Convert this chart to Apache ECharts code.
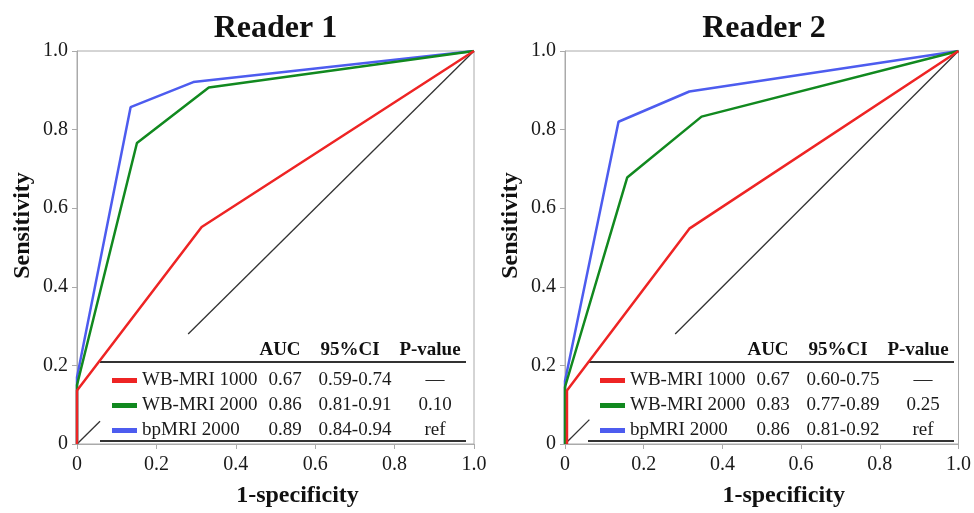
<!DOCTYPE html>
<html>
<head>
<meta charset="utf-8">
<script src="https://cdn.jsdelivr.net/npm/echarts@6/dist/echarts.min.js"></script>
<style>
  html, body { margin: 0; padding: 0; background: #fff; }
  #main { width: 974px; height: 513px; }
</style>
</head>
<body>
<div id="main"></div>
<script>
// names and table
var panelTitles = ['Reader 1', 'Reader 2']
var curveNames = ['WB-MRI 1000', 'WB-MRI 2000', 'bpMRI 2000']
var tableHeads = ['AUC', '95%CI', 'P-value']

// reader 1 curves [1-specificity, sensitivity]
var r1Wb1000 = [[0, 0], [0, 0.136], [0.314, 0.552], [1, 1]]
var r1Wb2000 = [[0, 0], [0, 0.15], [0.151, 0.766], [0.332, 0.907], [1, 1]]
var r1Bp2000 = [[0, 0], [0, 0.17], [0.135, 0.857], [0.293, 0.921], [1, 1]]
var r1DiagLow = [[0, 0], [0.058, 0.058]]
var r1DiagHigh = [[0.28, 0.28], [1, 1]]
var r1Auc = ['0.67', '0.86', '0.89']
var r1Ci = ['0.59-0.74', '0.81-0.91', '0.84-0.94']
var r1P = ['\u2014', '0.10', 'ref']

// reader 2 curves
var r2Wb1000 = [[0.005, 0], [0.005, 0.136], [0.316, 0.548], [1, 1]]
var r2Wb2000 = [[0, 0], [0, 0.145], [0.158, 0.678], [0.347, 0.833], [1, 1]]
var r2Bp2000 = [[0, 0], [0, 0.16], [0.136, 0.82], [0.316, 0.897], [1, 1]]
var r2DiagLow = [[0.005, 0.005], [0.062, 0.062]]
var r2DiagHigh = [[0.28, 0.28], [1, 1]]
var r2Auc = ['0.67', '0.83', '0.86']
var r2Ci = ['0.60-0.75', '0.77-0.89', '0.81-0.92']
var r2P = ['\u2014', '0.25', 'ref']

var colors = ['#ee2424', '#11891f', '#4d5cef']
var serif = '"Liberation Serif", "Times New Roman", serif'

var gridLefts = [77, 565]
var gridWidths = [397, 398]
var gridTop = 51
var gridHeight = 396

var chart = echarts.init(document.getElementById('main'))

function tickFmt(v) {
  return v === 0 ? '0' : v.toFixed(1)
}

function makeAxis(idx, isX) {
  return {
    type: 'value',
    gridIndex: idx,
    min: 0,
    max: 1,
    interval: 0.2,
    name: isX ? '1-specificity' : 'Sensitivity',
    nameLocation: 'middle',
    nameGap: isX ? 40 : 42,
    nameTextStyle: {
      fontFamily: serif, fontWeight: 'bold', fontSize: 24, color: '#111',
      padding: [0, 0, 0, 44]
    },
    axisLine: { show: true, lineStyle: { color: '#aaa', width: 1 } },
    axisTick: { show: true, inside: false, length: 5, lineStyle: { color: '#aaa' } },
    splitLine: { show: false },
    axisLabel: {
      fontFamily: serif, fontSize: 20, color: '#1a1a1a',
      margin: isX ? 11 : 9,
      formatter: tickFmt
    }
  }
}

function curve(name, data, idx, color, z) {
  return {
    name: name,
    type: 'line',
    xAxisIndex: idx,
    yAxisIndex: idx,
    data: data,
    showSymbol: false,
    symbol: 'none',
    z: z,
    lineStyle: { color: color, width: 2.5 },
    itemStyle: { color: color }
  }
}

function diag(data, idx) {
  return {
    type: 'line',
    xAxisIndex: idx,
    yAxisIndex: idx,
    data: data,
    symbol: 'none',
    z: 1,
    lineStyle: { color: '#333', width: 1.3 }
  }
}

var tables = [
  { auc: r1Auc, ci: r1Ci, p: r1P },
  { auc: r2Auc, ci: r2Ci, p: r2P }
]

function makeLegend(idx) {
  var t = tables[idx]
  var txt = { fontFamily: serif, fontSize: 19, lineHeight: 20, color: '#1a1a1a' }
  return {
    orient: 'vertical',
    left: gridLefts[idx] + 30,
    top: 366,
    itemWidth: 25,
    itemHeight: 5,
    itemGap: 6,
    icon: 'rect',
    selectedMode: false,
    data: curveNames,
    formatter: function (name) {
      var i = curveNames.indexOf(name)
      return '{n|' + name + '}{a|' + t.auc[i] + '}{c|' + t.ci[i] + '}{p|' + t.p[i] + '}'
    },
    textStyle: {
      fontFamily: serif, fontSize: 19, color: '#1a1a1a',
      rich: {
        n: Object.assign({ width: 120 }, txt),
        a: Object.assign({ width: 46, align: 'center' }, txt),
        c: Object.assign({ width: 94, align: 'center' }, txt),
        p: Object.assign({ width: 66, align: 'center' }, txt)
      }
    }
  }
}

// header row + rules of the table
function tableGraphics(idx) {
  var gl = gridLefts[idx]
  var textStart = gl + 30 + 25 + 5
  var offsets = [143, 213, 293]
  var out = []
  tableHeads.forEach(function (h, i) {
    out.push({
      type: 'text',
      x: textStart + offsets[i],
      y: 350,
      style: {
        text: h, font: 'bold 19px ' + serif, fill: '#111',
        textAlign: 'center', textVerticalAlign: 'middle'
      }
    })
  })
  ;[362, 441].forEach(function (y) {
    out.push({
      type: 'line',
      shape: { x1: gl + 23, y1: y, x2: gl + 389, y2: y },
      style: { stroke: '#333', lineWidth: 2 }
    })
  })
  return out
}

var option = {
  animation: false,
  backgroundColor: '#fff',
  title: [0, 1].map(function (i) {
    return {
      text: panelTitles[i],
      left: gridLefts[i] + gridWidths[i] / 2,
      top: 13,
      padding: 0,
      textAlign: 'center',
      textStyle: { fontFamily: serif, fontWeight: 'bold', fontSize: 32, color: '#111' }
    }
  }),
  grid: [0, 1].map(function (i) {
    return {
      left: gridLefts[i], top: gridTop, width: gridWidths[i], height: gridHeight,
      show: true, borderColor: '#aaa', borderWidth: 1, backgroundColor: '#fff'
    }
  }),
  xAxis: [makeAxis(0, true), makeAxis(1, true)],
  yAxis: [makeAxis(0, false), makeAxis(1, false)],
  legend: [makeLegend(0), makeLegend(1)],
  graphic: tableGraphics(0).concat(tableGraphics(1)),
  series: [
    diag(r1DiagLow, 0), diag(r1DiagHigh, 0),
    curve(curveNames[2], r1Bp2000, 0, colors[2], 2),
    curve(curveNames[1], r1Wb2000, 0, colors[1], 3),
    curve(curveNames[0], r1Wb1000, 0, colors[0], 4),
    diag(r2DiagLow, 1), diag(r2DiagHigh, 1),
    curve(curveNames[2], r2Bp2000, 1, colors[2], 2),
    curve(curveNames[1], r2Wb2000, 1, colors[1], 3),
    curve(curveNames[0], r2Wb1000, 1, colors[0], 4)
  ]
}

chart.setOption(option)
</script>
</body>
</html>
